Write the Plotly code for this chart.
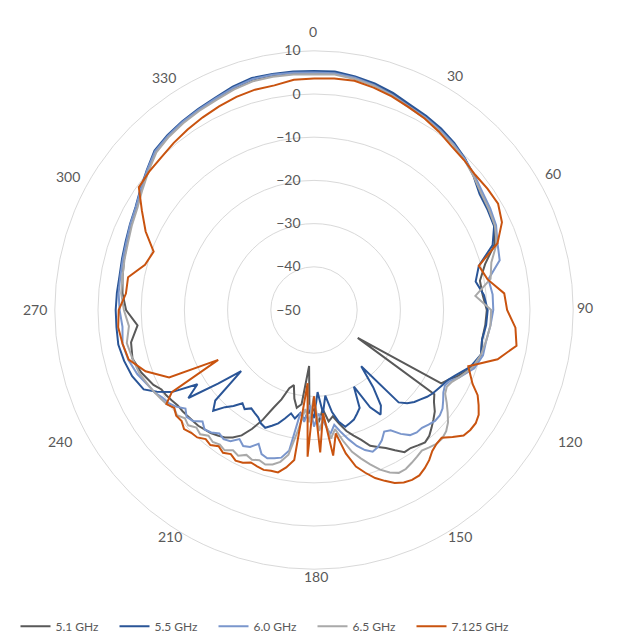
import plotly.graph_objects as go

# Measurement angles (degrees)
THETA = [0, 5, 10, 15, 20, 25, 30, 35, 40, 45, 50, 55, 60, 65, 70, 75, 80, 85, 90, 95, 100, 105, 110, 115,
         117.5, 120, 122.5, 125, 127.5, 130, 132.5, 135, 137.5, 140,
         142.5, 145, 147.5, 150, 152.5, 155, 157.5, 160, 162.5, 165,
         167.5, 170, 172.5, 175, 177.5, 180, 182.5, 185, 187.5, 190,
         192.5, 195, 197.5, 200, 202.5, 205, 207.5, 210, 212.5, 215,
         217.5, 220, 222.5, 225, 227.5, 230, 232.5, 235, 237.5, 240,
         242.5,
         245, 250, 255, 260, 265, 270, 275, 280, 285, 290, 295, 300, 305, 310, 315, 320, 325, 330, 335, 340,
         345, 350, 355, 360]

R_51 = ([5.0, 5.1, 4.7, 4.0, 3.2, 2.2, 1.7, 1.1, 0.3, -0.6, -1.6, -2.8, -3.3, -3.8, -5.5, -9.0, -11.0, -10.8,
         -10.0, -10.2, -10.5, -10.0, -11.0, -13.5]
        + [-15.0, -16.0, -38.0, -16.0, -15.0, -13.5, -12.5, -11.5, -10.5, -10.0,
           -10.5, -11.0, -11.0, -12.5, -14.0, -15.0, -16.0, -18.0, -19.5, -21.0,
           -23.0, -25.0, -24.0, -27.0, -24.0, -27.0, -26.0, -37.0, -28.0, -27.0,
           -29.0, -32.0, -31.0, -28.0, -25.5, -22.0, -19.0, -16.5, -15.0, -14.0,
           -13.4, -12.8, -12.5, -12.1, -12.0, -11.8, -11.6, -11.5, -11.0, -10.5,
           -10.2]
        + [-9.0, -7.5, -6.5, -7.0, -9.0, -6.5, -5.5, -5.0, -4.5, -4.0, -3.3, -2.5, -1.2, 0.2, 1.8, 2.5, 3.0, 3.4,
           3.9, 4.6, 5.2, 5.2, 5.1, 5.0])

R_55 = ([5.3, 5.4, 4.9, 4.3, 3.5, 2.5, 1.9, 1.3, 0.5, -0.5, -1.8, -3.2, -3.6, -4.0, -6.0, -10.5, -12.0, -10.5,
         -9.8, -10.0, -10.5, -10.0, -11.5, -14.0]
        + [-15.0, -15.5, -16.0, -16.4, -17.0, -17.8, -18.5, -19.5, -21.0, -33.0,
           -27.5, -23.0, -21.3, -24.0, -30.0, -25.0, -24.0, -23.0, -22.5, -22.0,
           -23.5, -26.0, -30.0, -26.0, -31.0, -25.0, -27.0, -24.5, -26.0, -24.5,
           -25.5, -24.0, -22.5, -21.5, -20.5, -21.0, -22.0, -22.5, -23.0, -22.0,
           -22.8, -21.0, -19.5, -17.0, -19.0, -28.0, -22.0, -14.5, -18.0, -12.0,
           -9.0]
        + [-6.5, -5.2, -4.5, -4.0, -4.1, -4.1, -4.2, -4.3, -4.0, -3.6, -3.0, -2.3, -1.0, 0.5, 2.2, 2.8, 3.3, 3.7,
           4.2, 5.0, 5.6, 5.5, 5.4, 5.3])

R_60 = ([5.0, 5.0, 4.6, 3.9, 3.0, 2.0, 1.5, 0.9, 0.2, -0.6, -1.5, -2.4, -2.9, -3.5, -4.8, -5.5, -9.0, -8.5,
         -8.5, -9.0, -9.5, -9.5, -10.5, -13.0]
        + [-14.5, -15.0, -14.5, -13.5, -12.5, -12.0, -12.0, -12.5, -13.0, -13.0,
           -13.5, -15.0, -17.0, -17.5, -16.0, -15.0, -14.5, -15.5, -17.0, -19.0,
           -21.0, -23.0, -21.0, -24.0, -26.0, -23.0, -28.0, -24.0, -26.0, -17.0,
           -15.0, -14.5, -14.0, -14.5, -16.5, -15.0, -14.5, -15.5, -14.0, -13.5,
           -14.0, -13.0, -12.5, -13.5, -12.0, -11.5, -12.5, -11.0, -10.0, -9.5,
           -8.5]
        + [-8.0, -6.5, -5.5, -5.0, -5.5, -5.0, -4.6, -4.5, -4.2, -3.8, -3.1, -2.4, -1.1, 0.4, 2.0, 2.6, 3.1, 3.5,
           4.0, 4.7, 5.3, 5.3, 5.1, 5.0])

R_65 = ([4.6, 4.7, 4.3, 3.7, 2.8, 1.8, 1.3, 0.6, 0.0, -0.8, -1.8, -2.8, -3.3, -3.8, -5.0, -7.5, -8.5, -12.5,
         -9.0, -9.0, -9.5, -10.0, -11.0, -13.0]
        + [-14.0, -14.5, -14.0, -12.5, -11.0, -9.5, -8.5, -8.0, -8.0, -8.5,
           -9.0, -8.5, -8.0, -7.5, -7.5, -8.5, -10.0, -12.0, -14.0, -16.0,
           -19.0, -22.0, -20.0, -25.0, -22.0, -30.0, -24.0, -27.0, -22.0, -16.0,
           -14.0, -13.0, -12.5, -13.0, -12.5, -13.0, -12.0, -12.5, -11.5, -12.0,
           -11.5, -12.0, -11.0, -11.5, -10.5, -11.0, -10.0, -10.5, -9.5, -9.0,
           -8.5]
        + [-8.0, -7.0, -6.5, -6.0, -7.0, -6.0, -5.2, -5.0, -4.6, -4.2, -3.5, -2.8, -1.5, 0.0, 1.6, 2.3, 2.8, 3.2,
           3.6, 4.3, 4.8, 4.8, 4.7, 4.6])

R_7125 = ([3.6, 3.8, 3.9, 3.3, 2.6, 1.8, 1.2, 0.4, -0.5, -0.9, -1.3, -1.0, -0.8, -2.0, -4.8, -10.5, -9.2, -5.8,
           -5.3, -3.2, -2.4, -6.0, -12.0, -9.5]
          + [-7.3, -6.0, -4.8, -4.3, -4.4, -4.8, -6.5, -8.2, -8.0, -7.4,
             -6.2, -5.3, -4.6, -4.6, -5.0, -5.8, -7.2, -8.6, -10.5, -12.5,
             -16.0, -21.0, -16.0, -26.0, -17.0, -30.0, -16.0, -33.0, -15.0, -13.0,
             -11.5, -11.5, -11.2, -11.5, -11.8, -11.0, -10.7, -11.5, -10.8, -11.5,
             -10.6, -11.0, -10.0, -9.8, -9.2, -10.0, -9.8, -10.5, -9.5, -12.0,
             -25.0]
          + [-13.0, -8.5, -5.6, -5.0, -4.5, -4.8, -6.3, -6.3, -9.5, -10.5, -7.0, -4.0, -0.5, -0.2, 0.0, 0.5, 1.0,
             1.5, 2.0, 2.5, 2.8, 2.8, 3.5, 3.6])

SERIES_NAMES = ["5.1 GHz", "5.5 GHz", "6.0 GHz", "6.5 GHz", "7.125 GHz"]
SERIES_VALUES = [R_51, R_55, R_60, R_65, R_7125]
COLORS = ["#595959", "#2A5597", "#7A96CC", "#A9A9A9", "#C9530F"]

ANGLE_LABELS = ["0", "30", "60", "90", "120", "150", "180", "210", "240", "270", "300", "330"]
RADIAL_TICKS = [-50, -40, -30, -20, -10, 0, 10]

W, H = 620, 641
# Pixel placement of the category labels around the chart (layout only)
LABEL_PX = [(313, 32), (455, 76), (553, 174), (585, 308), (570, 443), (460, 538),
            (316, 578), (170, 538), (60, 443), (35, 310), (68, 177), (164, 78)]

fig = go.Figure()
for name, vals, col in zip(SERIES_NAMES, SERIES_VALUES, COLORS):
    fig.add_trace(go.Scatterpolar(theta=THETA, r=vals, mode="lines", name=name,
                                  line=dict(color=col, width=2)))

annotations = []
for txt, (px, py) in zip(ANGLE_LABELS, LABEL_PX):
    annotations.append(dict(text=txt, x=px / W, y=1 - py / H, xref="paper", yref="paper",
                            xanchor="center", yanchor="middle", showarrow=False,
                            font=dict(size=14, color="#595959")))

fig.update_layout(
    width=W, height=H,
    margin=dict(l=0, r=0, t=0, b=0),
    paper_bgcolor="white",
    font=dict(family="Lato, Open Sans, sans-serif", color="#595959", size=13),
    polar=dict(
        domain=dict(x=[0.0871, 0.9258], y=[0.1092, 0.9205]),
        bgcolor="white",
        angularaxis=dict(rotation=90, direction="clockwise", tickmode="array",
                         tickvals=[0, 30, 60, 90, 120, 150, 180, 210, 240, 270, 300, 330],
                         showticklabels=False,
                         showgrid=False, showline=True, linecolor="#D9D9D9", linewidth=1,
                         ticks=""),
        radialaxis=dict(range=[-50, 10], tickmode="array", tickvals=RADIAL_TICKS,
                        angle=90, tickangle=90, side="counterclockwise",
                        showline=False, gridcolor="#D9D9D9", gridwidth=1,
                        ticks="outside", ticklen=8, tickcolor="rgba(0,0,0,0)",
                        tickfont=dict(size=14, color="#595959")),
    ),
    annotations=annotations,
    showlegend=True,
    legend=dict(orientation="h", x=0.025, xanchor="left", y=0.02, yanchor="middle",
                font=dict(size=12, color="#595959"), itemwidth=30,
                entrywidth=54, entrywidthmode="pixels"),
)

fig.write_html("out.html")
